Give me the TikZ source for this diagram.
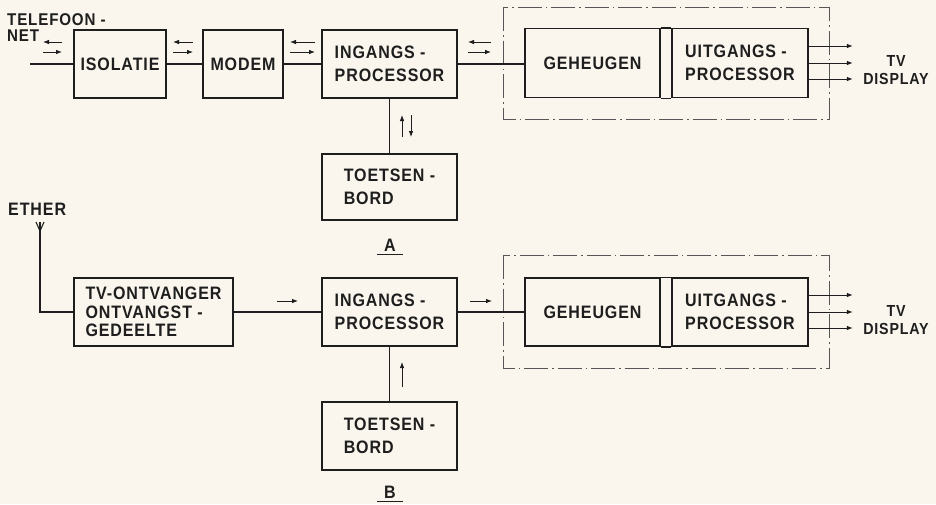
\documentclass[tikz,border=0pt]{standalone}
\usepackage{fontspec}
\setmainfont{Liberation Sans}[LetterSpace=5, FakeStretch=0.89]
\usetikzlibrary{arrows.meta}

\definecolor{papier}{RGB}{250,246,237}
\definecolor{inkt}{RGB}{30,30,30}
\newcommand\blokfont{\fontsize{18}{23}\selectfont\bfseries}

\tikzset{
  blok/.style={draw=inkt, line width=1.5pt, align=left, inner sep=0pt,
    minimum width=135pt, minimum height=68pt, text=inkt},
  lijn/.style={draw=inkt, line width=1.1pt},
  pijl/.style={draw=inkt, line width=0.9pt, -{Latex[length=6pt,width=4.6pt]}},
  kader/.style={draw=inkt!75, line width=0.8pt,
    dash pattern=on 24pt off 4pt on 1.5pt off 4pt},
  tekst/.style={inner sep=0pt, text=inkt},
}

\begin{document}
\begin{tikzpicture}[x=1pt, y=-1pt, font=\blokfont]
\fill[papier] (0,0) rectangle (936,504);
\useasboundingbox (0,0) rectangle (936,504);

% schema A
\node[blok, minimum width=92pt] (iso) at (120,64) {ISOLATIE};
\node[blok, minimum width=80pt] (modem) at (243,64) {MODEM};
\node[blok] (inA) at (389.5,64) {INGANGS -\\PROCESSOR};
\node[blok, minimum height=66pt] (tsA) at (389.5,187) {TOETSEN -\\BORD};
\node[blok, minimum height=69pt] (gehA) at (592.5,63) {GEHEUGEN};
\node[blok, minimum width=136pt, minimum height=69pt] (uitA) at (740,63) {UITGANGS -\\PROCESSOR};
\draw[kader] (503,7) rectangle (829,119);

\node[tekst, anchor=north west, align=left, font=\fontsize{17}{16}\selectfont\bfseries]
  (telnet) at (7,13) {TELEFOON -\\NET};
\coordinate (lijnin) at (30,64);
\draw[lijn] (lijnin) -- (iso.west);
\draw[lijn] (iso.east) -- (modem.west);
\draw[lijn] (modem.east) -- (inA.west);
\draw[lijn] (inA.east) -- (gehA.west |- inA.east);
\draw[lijn] (inA.south) -- (tsA.north);
\draw[blok] (gehA.north east) -- (uitA.north west);
\draw[blok] (gehA.south east) -- (uitA.south west);

\foreach \xa/\xb in {43/62, 173/193, 290/315, 468/491} {
  \draw[pijl] (\xb,42) -- (\xa,42);
  \draw[pijl] (\xa,52) -- (\xb,52);
}
\draw[pijl] (402,137) -- (402,115);
\draw[pijl] (411,115) -- (411,137);

\foreach \dy [count=\i] in {-17,0,16} {
  \coordinate (uitA-\i) at ([yshift=-\dy pt]uitA.east);
  \coordinate (dispA-\i) at ([xshift=44pt]uitA-\i);
  \draw[pijl] (uitA-\i) -- (dispA-\i);
}
\node[tekst, align=center, font=\fontsize{16}{18}\selectfont\bfseries] (tvA) at (896,70) {TV\\DISPLAY};

\node[tekst] (labA) at (390,245) {A};
\draw[lijn] ([xshift=-7pt,yshift=-3pt]labA.south west) -- ([xshift=7pt,yshift=-3pt]labA.south east);

% schema B
\node[tekst, anchor=north west] (ether) at (8,203) {ETHER};
\coordinate (ant) at (40,231);
\draw[lijn] (36,222) -- (ant) -- (44,222);
\draw[lijn] (40,222) -- (ant);

\node[blok, minimum width=159pt, font=\fontsize{18}{18.5}\selectfont\bfseries] (tv) at (153.5,312) {TV-ONTVANGER\\ONTVANGST -\\GEDEELTE};
\node[blok] (inB) at (389.5,312) {INGANGS -\\PROCESSOR};
\node[blok] (tsB) at (389.5,436) {TOETSEN -\\BORD};
\node[blok] (gehB) at (592.5,312) {GEHEUGEN};
\node[blok, minimum width=136pt] (uitB) at (740,312) {UITGANGS -\\PROCESSOR};
\draw[kader] (503,255) rectangle (829,368);

\draw[lijn] (ant) |- (tv.west);
\draw[lijn] (tv.east) -- (inB.west);
\draw[lijn] (inB.east) -- (gehB.west);
\draw[lijn] (inB.south) -- (tsB.north);
\draw[blok] (gehB.north east) -- (uitB.north west);
\draw[blok] (gehB.south east) -- (uitB.south west);

\draw[pijl] (277,301) -- (298,301);
\draw[pijl] (470,301) -- (492,301);
\draw[pijl] (402,387) -- (402,362);

\foreach \dy [count=\i] in {-17,0,16} {
  \coordinate (uitB-\i) at ([yshift=-\dy pt]uitB.east);
  \coordinate (dispB-\i) at ([xshift=44pt]uitB-\i);
  \draw[pijl] (uitB-\i) -- (dispB-\i);
}
\node[tekst, align=center, font=\fontsize{16}{18}\selectfont\bfseries] (tvB) at (896,320) {TV\\DISPLAY};

\node[tekst] (labB) at (390,492) {B};
\draw[lijn] ([xshift=-7pt,yshift=-3pt]labB.south west) -- ([xshift=7pt,yshift=-3pt]labB.south east);
\end{tikzpicture}
\end{document}
